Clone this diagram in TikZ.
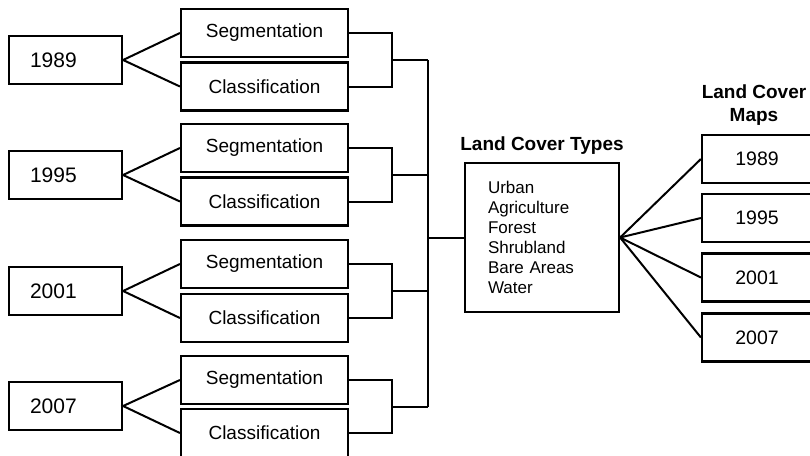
\documentclass[tikz,border=0pt]{standalone}
\usepackage{fontspec}
\setmainfont{Liberation Sans}
\usetikzlibrary{calc}
\tikzset{
  box/.style={draw, line width=2.2pt, inner sep=0pt, font=\fontsize{19}{22}\selectfont},
  procbox/.style={box, minimum width=167pt, minimum height=48pt},
  yearbox/.style={box, minimum height=48pt, text width=71pt, inner xsep=21pt, align=left, font=\fontsize{21}{24}\selectfont},
  mapbox/.style={box, minimum width=110pt, minimum height=48pt, font=\fontsize{19.5}{22}\selectfont},
  conn/.style={line width=2pt},
  title/.style={font=\bfseries\fontsize{19}{23}\selectfont, align=center, inner sep=0pt}
}
\begin{document}
\begin{tikzpicture}[x=1pt,y=-1pt]
\path[use as bounding box, clip] (0,0) rectangle (810,455);
\fill[white] (0,0) rectangle (810,455);
% years and process boxes
\foreach \i/\yr/\ys/\yc/\yy in {1/1989/33/86.5/60, 2/1995/148/201.5/175, 3/2001/264/318/291, 4/2007/380/433/406}{
  \node[procbox] (seg\i) at (264.5,\ys) {\raisebox{2pt}{Segmentation}};
  \node[procbox] (cls\i) at (264.5,\yc) {Classification};
  \node[yearbox] (yr\i) at (65.5,\yy) {\yr};
  \draw[conn] (seg\i.west) -- (yr\i.east) -- (cls\i.west);
  \draw[conn] (seg\i.east) -| (392,\ys) |- (cls\i.east);
  \coordinate (b\i) at ($(392,\ys)!0.5!(392,\yc)$);
  \coordinate (m\i) at (428,\ys/2+\yc/2);
  \draw[conn] (b\i) -- (m\i);
}
\draw[conn] (m1) -- (m4);
% land cover types
\node[box, minimum width=154pt, minimum height=149pt, text width=108pt, inner xsep=23pt, align=left, font=\fontsize{17}{20}\selectfont] (lct) at (542,237.5)
  {Urban\\Agriculture\\Forest\\Shrubland\\Bare Areas\\Water};
\node[title] (lcttitle) at (542,146) {Land Cover Types};
\coordinate (mj) at (428,237.5);
\draw[conn] (mj) -- (lct.west);
% maps
\node[title] (maptitle) at (754,105) {Land Cover\\Maps};
\foreach \i/\yr/\y in {1/1989/159, 2/1995/218, 3/2001/277.5, 4/2007/337.5}{
  \node[mapbox] (map\i) at (757,\y) {\yr};
  \draw[conn] (lct.east) -- (map\i.west);
}
\end{tikzpicture}
\end{document}
